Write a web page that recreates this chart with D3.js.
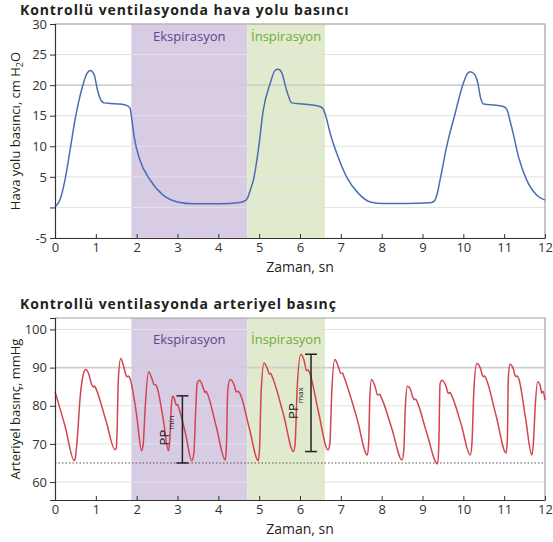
<!DOCTYPE html>
<html>
<head>
<meta charset="utf-8">
<script src="https://cdn.jsdelivr.net/npm/d3@7"></script>
<style>
  body { margin: 0; background: #fff; }
  svg { display: block; font-family: "Open Sans", sans-serif; }
</style>
</head>
<body>
<div id="chart"></div>
<script>
// x axis (time, s)
var xTicks = [0, 1, 2, 3, 4, 5, 6, 7, 8, 9, 10, 11, 12];

// breathing phases
var phaseNames = ["Ekspirasyon", "İnspirasyon"];
var phaseStart = [1.87, 4.71];
var phaseEnd = [4.71, 6.61];
var phaseFill = ["#d7cce3", "#e1eacd"];
var phaseText = ["#57498c", "#6fab3f"];

// airway pressure, cm H2O
var airTicks = [-5, 0, 5, 10, 15, 20, 25, 30];
var airT = [0, 0.12, 0.245, 0.37, 0.49, 0.65, 0.78, 0.87, 0.96, 1.04, 1.12, 1.2, 1.35, 1.6, 1.78, 1.84, 1.88, 1.94, 2.08, 2.33, 2.65, 3.0, 3.4, 4.0, 4.53, 4.66, 4.72,
  4.79, 4.86, 4.98, 5.1, 5.27, 5.4, 5.47, 5.55, 5.67, 5.8, 6.08, 6.45, 6.56, 6.62, 6.74, 6.9, 7.14, 7.43, 7.72, 8.04, 8.6, 9.18, 9.28, 9.35,
  9.43, 9.59, 9.8, 10.0, 10.1, 10.17, 10.27, 10.35, 10.42, 10.5, 10.8, 10.98, 11.07, 11.12, 11.22, 11.35, 11.55, 11.8, 12.0];
var airP = [0.1, 1.2, 4.5, 9.4, 14.3, 19.2, 21.9, 22.4, 21.7, 19.2, 17.6, 17.1, 17.0, 16.9, 16.6, 16.2, 14.5, 11.5, 7.75, 4.5, 2.0, 0.9, 0.6, 0.6, 0.8, 1.1, 1.6,
  3.0, 4.5, 9.4, 15.9, 20.3, 22.5, 22.6, 22.1, 19.2, 17.1, 16.9, 16.6, 16.2, 15.2, 12.1, 8.85, 5.0, 2.3, 0.9, 0.65, 0.65, 0.75, 1.0, 2.0,
  4.5, 9.9, 15.4, 20.3, 21.9, 22.2, 21.8, 20.5, 18.0, 16.9, 16.7, 16.5, 16.0, 14.8, 12.1, 8.3, 4.5, 2.0, 1.2];

// arterial pressure, mmHg
var artTicks = [60, 70, 80, 90, 100];
var artBase = 65;
var artT = [0, 0.25, 0.47, 0.5, 0.55, 0.61, 0.68, 0.75, 0.82, 0.9, 0.94, 0.97, 1.01, 1.25, 1.47,
  1.5, 1.52, 1.55, 1.61, 1.67, 1.73, 1.76, 1.8, 1.84, 2.0, 2.12,
  2.16, 2.21, 2.29, 2.37, 2.43, 2.46, 2.5, 2.65, 2.78,
  2.81, 2.85, 2.88, 2.92, 2.97, 3.0, 3.03, 3.2, 3.35,
  3.4, 3.45, 3.48, 3.54, 3.62, 3.67, 3.7, 3.73, 3.95, 4.17,
  4.2, 4.23, 4.29, 4.39, 4.44, 4.48, 4.53, 4.75, 4.98,
  5.01, 5.05, 5.12, 5.2, 5.25, 5.28, 5.32, 5.6, 5.84,
  5.88, 5.93, 6.02, 6.1, 6.16, 6.2, 6.24, 6.45, 6.69,
  6.73, 6.78, 6.85, 6.94, 7.0, 7.04, 7.07, 7.4, 7.65,
  7.68, 7.71, 7.75, 7.84, 7.9, 7.95, 7.99, 8.25, 8.5,
  8.54, 8.58, 8.63, 8.7, 8.76, 8.8, 8.83, 8.87, 9.1, 9.37,
  9.4, 9.43, 9.48, 9.58, 9.63, 9.67, 9.71, 9.95, 10.17,
  10.21, 10.26, 10.33, 10.42, 10.48, 10.52, 10.56, 10.8, 11.05,
  11.08, 11.1, 11.14, 11.22, 11.28, 11.32, 11.36, 11.52, 11.68,
  11.72, 11.76, 11.82, 11.89, 11.92, 11.95, 12.0];
var artP = [83.7, 74.5, 65.6, 66.5, 72, 81.5, 87.6, 89.5, 88.5, 85.5, 84.9, 85.2, 84.3, 76, 68.5,
  68.8, 73, 86.7, 92.4, 90.8, 88.3, 87.6, 87.8, 87, 77.5, 68.2,
  70, 79.7, 88.9, 87.2, 85.5, 85.6, 84.8, 76.5, 68.2,
  71, 80, 82.5, 82, 80.2, 80.3, 79.5, 72.5, 65.6,
  67.5, 80, 85.8, 86.7, 85, 83.5, 83.8, 83.2, 74.5, 65.8,
  70, 84, 86.9, 85.4, 83.6, 83.8, 83.2, 74.5, 65.6,
  69, 84, 91.2, 89.7, 88.3, 88.5, 87.6, 77.5, 68,
  70, 84.5, 93.5, 91.9, 89.2, 89.4, 88.5, 78.5, 68.4,
  70, 84.1, 92.1, 90.2, 88.5, 88.6, 87.8, 76.5, 67.1,
  70, 82, 86.9, 85, 82.8, 83, 82.2, 74, 65.8,
  68, 79.7, 85.1, 84.4, 82.3, 81.6, 81.8, 81.0, 73, 64.8,
  70, 85.8, 86.7, 85, 83.3, 83.5, 82.8, 75, 67.1,
  70, 84.5, 91.1, 89.8, 87.7, 87.8, 87, 77.5, 67.6,
  72, 86.7, 90.9, 89.8, 87.7, 87.8, 87, 77, 67.1,
  71, 79.7, 86.3, 85, 83.3, 83.8, 81.5];

// pulse pressure brackets
var ppSub = ["min", "max"];
var ppT = [3.12, 6.27];
var ppLow = [65, 68];
var ppHigh = [82.6, 93.5];

var W = 553, H = 542;
var left = 55, right = 545;

var svg = d3.select('#chart').append('svg')
    .attr('width', W)
    .attr('height', H);

var x = d3.scaleLinear().domain([0, 12]).range([left, right]);

function panel(opt) {
  var y = d3.scaleLinear().domain(opt.domain).range([opt.bottom, opt.top]);
  var g = svg.append('g');

  // title
  g.append('text')
      .attr('x', 20)
      .attr('y', opt.top - 9)
      .attr('font-size', 14)
      .attr('letter-spacing', 0.9)
      .attr('font-weight', 'bold')
      .attr('fill', '#231f20')
      .text(opt.title);

  // phase bands
  phaseNames.forEach(function(name, i) {
    g.append('rect')
        .attr('x', x(phaseStart[i]))
        .attr('y', opt.top)
        .attr('width', x(phaseEnd[i]) - x(phaseStart[i]))
        .attr('height', opt.bottom - opt.top)
        .attr('fill', phaseFill[i]);
    g.append('text')
        .attr('x', (x(phaseStart[i]) + x(phaseEnd[i])) / 2)
        .attr('y', opt.top + opt.labelDy)
        .attr('text-anchor', 'middle')
        .attr('font-size', 13)
        .attr('fill', phaseText[i])
        .text(name);
  });

  // grid
  g.selectAll('.grid')
      .data(opt.ticks)
    .enter().append('line')
      .attr('x1', left).attr('x2', right)
      .attr('y1', function(d) { return y(d); })
      .attr('y2', function(d) { return y(d); })
      .attr('stroke', function(d) { return d === opt.strong ? '#cfcfcf' : '#e2e2e2'; })
      .attr('stroke-width', function(d) { return d === opt.strong ? 1.6 : 1; });

  // frame
  g.append('path')
      .attr('d', 'M' + left + ',' + opt.top + 'H' + right + 'V' + opt.bottom)
      .attr('fill', 'none')
      .attr('stroke', '#a0a0a0')
      .attr('stroke-width', 1.2);

  if (opt.dotted != null) {
    g.append('line')
        .attr('x1', left).attr('x2', right)
        .attr('y1', y(opt.dotted)).attr('y2', y(opt.dotted))
        .attr('stroke', '#555')
        .attr('stroke-dasharray', '1.5,2');
  }

  var line = d3.line()
      .x(function(d) { return x(d[0]); })
      .y(function(d) { return y(d[1]); })
      .curve(d3.curveMonotoneX);

  g.append('path')
      .datum(d3.zip(opt.t, opt.v))
      .attr('d', line)
      .attr('fill', 'none')
      .attr('stroke', opt.color)
      .attr('stroke-width', 1.5);

  // axes
  var yAxis = g.append('g')
      .attr('transform', 'translate(' + left + ',0)')
      .call(d3.axisLeft(y).tickValues(opt.ticks).tickSize(5).tickPadding(3)
        .tickFormat(function(d) { return d === 0 ? '' : d; }));
  var xAxis = g.append('g')
      .attr('transform', 'translate(0,' + opt.bottom + ')')
      .call(d3.axisBottom(x).tickValues(xTicks).tickSizeInner(-4).tickSizeOuter(0).tickPadding(4));

  [yAxis, xAxis].forEach(function(a) {
    a.select('.domain').attr('stroke', '#333').attr('stroke-width', 1.2);
    a.selectAll('.tick line').attr('stroke', '#333');
    a.selectAll('text').attr('font-size', 13).attr('fill', '#333')
      .attr('font-family', '"Open Sans", sans-serif');
  });
  xAxis.selectAll('text').attr('dy', '0.8em');

  g.append('text')
      .attr('x', (left + right) / 2)
      .attr('y', opt.bottom + 34)
      .attr('text-anchor', 'middle')
      .attr('font-size', 14)
      .attr('fill', '#231f20')
      .text('Zaman, sn');

  var yl = g.append('text')
      .attr('transform', 'translate(20,' + (opt.top + opt.bottom) / 2 + ') rotate(-90)')
      .attr('text-anchor', 'middle')
      .attr('font-size', 13)
      .attr('fill', '#231f20');
  opt.ylabel(yl);

  return { g: g, y: y };
}

panel({
  title: 'Kontrollü ventilasyonda hava yolu basıncı',
  top: 24, bottom: 238,
  domain: [-5, 30],
  ticks: airTicks,
  strong: 20,
  labelDy: 17,
  t: airT, v: airP,
  color: '#4a6db3',
  ylabel: function(t) {
    t.append('tspan').text('Hava yolu basıncı, cm H');
    t.append('tspan').attr('font-size', 9).attr('dy', 3).text('2');
    t.append('tspan').attr('dy', -3).text('O');
  }
});

var p2 = panel({
  title: 'Kontrollü ventilasyonda arteriyel basınç',
  top: 318, bottom: 500,
  domain: [55.3, 103],
  ticks: artTicks,
  strong: 90,
  labelDy: 26,
  dotted: artBase,
  t: artT, v: artP,
  color: '#d2444f',
  ylabel: function(t) { t.text('Arteriyel basınç, mmHg'); }
});

// PP brackets
ppSub.forEach(function(s, i) {
  var cx = x(ppT[i]), y0 = p2.y(ppLow[i]), y1 = p2.y(ppHigh[i]);
  var b = p2.g.append('g').attr('stroke', '#222').attr('stroke-width', 1.5);
  b.append('line').attr('x1', cx).attr('x2', cx).attr('y1', y0).attr('y2', y1);
  b.append('line').attr('x1', cx - 6).attr('x2', cx + 6).attr('y1', y0).attr('y2', y0);
  b.append('line').attr('x1', cx - 6).attr('x2', cx + 6).attr('y1', y1).attr('y2', y1);

  var lbl = p2.g.append('text')
      .attr('transform', 'translate(' + (cx - 13) + ',' + ((y0 + y1) / 2 + 16) + ') rotate(-90)')
      .attr('font-size', 13)
      .attr('fill', '#222');
  lbl.append('tspan').text('PP');
  lbl.append('tspan').attr('font-size', 8).attr('dy', 5).text(s);
});
</script>
</body>
</html>
